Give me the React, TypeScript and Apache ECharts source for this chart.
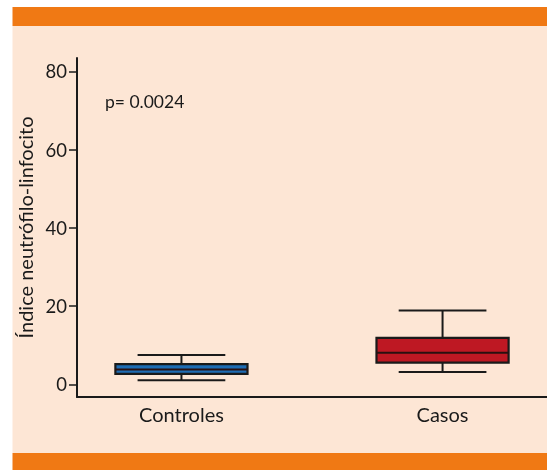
import React, { useEffect, useRef } from "react";
import * as echarts from "echarts";

const categories = ["Controles", "Casos"];
// [low whisker, Q1, median, Q3, high whisker]
const controlesStats = [1.1, 2.7, 3.8, 5.2, 7.5];
const casosStats = [3.2, 5.6, 8.1, 11.9, 18.9];
const boxColors = ["#1f6db4", "#be1823"];
const yTicks = [0, 20, 40, 60, 80];
const pValueText = "p= 0.0024";
const yAxisName = "Índice neutrófilo-linfocito";

const FONT = "Lato, 'Open Sans', sans-serif";

export default function App() {
  const ref = useRef<HTMLDivElement>(null);
  useEffect(() => {
    if (!ref.current) return;
    const chart = echarts.init(ref.current, undefined, { renderer: "svg" });
    const allStats = [controlesStats, casosStats];
    const data = allStats.map((s, i) => [i, ...s]);
    chart.setOption({
      animation: false,
      graphic: [
        { type: "rect", shape: { x: 0, y: 0, width: 547, height: 470 }, style: { fill: "#ffffff" }, z: -10 },
        { type: "rect", shape: { x: 12.5, y: 7, width: 540, height: 19 }, style: { fill: "#f07914" }, z: -9 },
        { type: "rect", shape: { x: 12.5, y: 26, width: 540, height: 427 }, style: { fill: "#fde6d5" }, z: -9 },
        { type: "rect", shape: { x: 12.5, y: 453, width: 540, height: 17 }, style: { fill: "#f07914" }, z: -9 },
        {
          type: "text",
          x: 105,
          y: 101,
          style: { text: pValueText, fontSize: 17.5, fontFamily: FONT, fill: "#1a1a1a", verticalAlign: "middle", align: "left" },
          z: 5,
        },
      ],
      grid: { left: 77, right: 0, top: 58, bottom: 73, containLabel: false },
      xAxis: {
        type: "value",
        min: -0.4,
        max: 1.4,
        splitLine: { show: false },
        axisLine: { show: true, onZero: false, lineStyle: { color: "#1a1a1a", width: 2 } },
        axisTick: { show: false },
        axisLabel: {
          customValues: [0, 1],
          formatter: (v: number) => categories[Math.round(v)] ?? "",
          fontSize: 20,
          fontFamily: FONT,
          color: "#1a1a1a",
          margin: 7,
        },
      },
      yAxis: {
        type: "value",
        min: -3.2,
        max: 83.4,
        name: yAxisName,
        nameLocation: "middle",
        nameGap: 41,
        nameTextStyle: { fontSize: 20, fontFamily: FONT, color: "#1a1a1a" },
        splitLine: { show: false },
        axisLine: { show: true, onZero: false, lineStyle: { color: "#1a1a1a", width: 2 } },
        axisTick: { show: true, customValues: yTicks, length: 8, lineStyle: { color: "#1a1a1a", width: 1.5 } },
        axisLabel: {
          customValues: yTicks,
          fontSize: 18.5,
          fontFamily: FONT,
          color: "#1a1a1a",
          margin: 10,
        },
      },
      series: [
        {
          type: "custom",
          data,
          encode: { x: 0, y: [1, 2, 3, 4, 5] },
          renderItem: (params: any, api: any) => {
            const xi = api.value(0);
            const low = api.coord([xi, api.value(1)]);
            const q1 = api.coord([xi, api.value(2)]);
            const med = api.coord([xi, api.value(3)]);
            const q3 = api.coord([xi, api.value(4)]);
            const high = api.coord([xi, api.value(5)]);
            const boxW = api.size([0.506, 0])[0];
            const capW = api.size([0.336, 0])[0];
            const cx = low[0];
            const stroke = "#1a1a1a";
            const ls = { stroke, lineWidth: 2 };
            return {
              type: "group",
              children: [
                { type: "line", shape: { x1: cx, y1: high[1], x2: cx, y2: q3[1] }, style: ls },
                { type: "line", shape: { x1: cx, y1: q1[1], x2: cx, y2: low[1] }, style: ls },
                { type: "line", shape: { x1: cx - capW / 2, y1: high[1], x2: cx + capW / 2, y2: high[1] }, style: ls },
                { type: "line", shape: { x1: cx - capW / 2, y1: low[1], x2: cx + capW / 2, y2: low[1] }, style: ls },
                {
                  type: "rect",
                  shape: { x: cx - boxW / 2, y: q3[1], width: boxW, height: q1[1] - q3[1] },
                  style: { fill: boxColors[params.dataIndex], stroke, lineWidth: 2.2 },
                },
                { type: "line", shape: { x1: cx - boxW / 2, y1: med[1], x2: cx + boxW / 2, y2: med[1] }, style: { stroke: "#2a1010", lineWidth: 2 } },
              ],
            };
          },
        },
      ],
    });
    return () => chart.dispose();
  }, []);
  return (
    <div
      ref={ref}
      style={{ position: "fixed", left: 0, top: 0, width: 547, height: 470 }}
    />
  );
}
